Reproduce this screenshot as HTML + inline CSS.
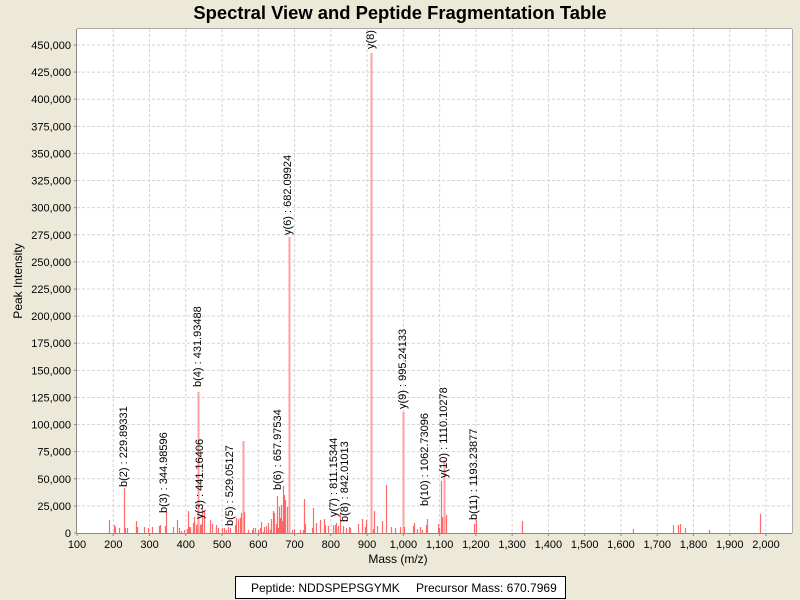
<!DOCTYPE html>
<html><head><meta charset="utf-8"><style>
html,body{margin:0;padding:0;background:#ece9d8;}
svg{display:block;font-family:"Liberation Sans",sans-serif;}
</style></head><body>
<svg width="800" height="600" xmlns="http://www.w3.org/2000/svg">
<rect width="800" height="600" fill="#ece9d8"/>
<text x="400" y="19" text-anchor="middle" font-size="18.4" font-weight="bold">Spectral View and Peptide Fragmentation Table</text>
<rect x="77" y="29" width="715" height="504" fill="#fff"/>
<g id="grid" stroke="#d4d4d4" stroke-dasharray="3,2" stroke-width="1"></g>
<defs><clipPath id="c"><rect x="77" y="29" width="715" height="504"/></clipPath></defs>
<g id="peaks" clip-path="url(#c)"></g>
<g id="labels" clip-path="url(#c)" font-size="11"></g>
<line x1="76.5" y1="29" x2="76.5" y2="533" stroke="#888"/>
<line x1="77" y1="533.5" x2="792" y2="533.5" stroke="#888"/>
<line x1="792.5" y1="29" x2="792.5" y2="533" stroke="#aaa"/>
<line x1="77" y1="28.5" x2="792" y2="28.5" stroke="#aaa"/>
<g id="ticks" font-size="11"></g>
<text x="398" y="563" text-anchor="middle" font-size="12">Mass (m/z)</text>
<text transform="translate(22,281) rotate(-90)" text-anchor="middle" font-size="12">Peak Intensity</text>
<rect x="235.5" y="576.5" width="330" height="22" fill="#fff" stroke="#000"/>
<text x="251" y="592" font-size="12">Peptide: NDDSPEPSGYMK</text>
<text x="416" y="592" font-size="12">Precursor Mass: 670.7969</text>
</svg>
<script>
var NS="http://www.w3.org/2000/svg";
function el(p,t,a,txt){var e=document.createElementNS(NS,t);for(var k in a)e.setAttribute(k,a[k]);if(txt)e.textContent=txt;document.getElementById(p).appendChild(e);}
var px=36.263;
for(var i=0;i<=19;i++){var x=77+i*px;var lab=(100+i*100).toLocaleString("en-US");
 if(i>0)el("grid","line",{x1:x,y1:29,x2:x,y2:533});
 el("ticks","line",{x1:x,y1:533,x2:x,y2:536,stroke:"#888"});
 el("ticks","text",{x:x,y:548,"text-anchor":"middle"},lab);}
var py=27.111;
for(var j=0;j<=18;j++){var y=533-j*py;
 if(j>0)el("grid","line",{x1:77,y1:y,x2:792,y2:y});
 el("ticks","line",{x1:74,y1:y,x2:77,y2:y,stroke:"#888"});
 el("ticks","text",{x:71,y:y+4,"text-anchor":"end"},(j*25000).toLocaleString("en-US"));}
var P=[[109,520],[114,525],[115,527],[119,528],[124,488],[125,528],[127,528],[136,521],[137,527],[144,527],[148,528],[152,527],[159,526],[160,525],[165,526],[166,512],[173,527],[177,520],[179,528],[181,531],[184,530],[187,529],[188,511],[189,527],[190,527],[193,523],[194,517],[196,525],[197,524],[198,392],[200,525],[201,524],[202,509],[204,511],[210,520],[212,524],[216,525],[218,528],[222,528],[224,528],[226,530],[228,527],[230,528],[235,525],[236,518],[238,519],[240,518],[241,513],[243,492],[243,441],[244,512],[248,530],[252,530],[253,528],[255,528],[258,530],[260,528],[261,522],[263,532],[264,527],[266,526],[268,523],[270,530],[271,519],[273,511],[274,513],[276,524],[277,496],[278,528],[279,507],[280,518],[281,505],[282,521],[283,486],[284,495],[285,500],[287,507],[289,237],[292,530],[294,529],[300,530],[303,530],[304,499],[305,524],[312,528],[313,508],[316,523],[320,520],[324,519],[325,525],[328,526],[333,525],[335,525],[336,523],[338,526],[340,513],[343,526],[346,528],[349,527],[350,528],[358,524],[362,519],[365,527],[366,520],[371,358],[371,53],[373,529],[374,511],[377,526],[382,521],[386,485],[391,527],[395,528],[400,527],[403,412],[404,527],[413,526],[414,523],[417,529],[420,527],[422,530],[426,525],[427,519],[438,524],[439,528],[441,481],[442,517],[444,460],[446,515],[474,524],[476,520],[522,521],[633,529],[673,525],[678,525],[680,524],[685,528],[709,530],[760,514]];
P.forEach(function(p){var tall=(533-p[1])>60;
 el("peaks","line",{x1:p[0]+0.5,y1:533,x2:p[0]+0.5,y2:p[1],stroke:tall?"#ffa0a0":"#ff5050","stroke-width":tall?2:1.2,"stroke-opacity":tall?1:0.85});});
var L=[[127,487,"b(2) : 229.89331"],[167,513,"b(3) : 344.98596"],[201,387,"b(4) : 431.93488"],[203,519,"y(3) : 441.16406"],[233,526,"b(5) : 529.05127"],[281,490,"b(6) : 657.97534"],[291,235,"y(6) : 682.09924"],[337,517,"y(7) : 811.15344"],[348,522,"b(8) : 842.01013"],[374,49,"y(8) : 910.18732"],[406,409,"y(9) : 995.24133"],[428,506,"b(10) : 1062.73096"],[447,478,"y(10) : 1110.10278"],[477,520,"b(11) : 1193.23877"]];
L.forEach(function(l){el("labels","text",{transform:"translate("+l[0]+","+l[1]+") rotate(-90)"},l[2]);});
</script>
</body></html>
